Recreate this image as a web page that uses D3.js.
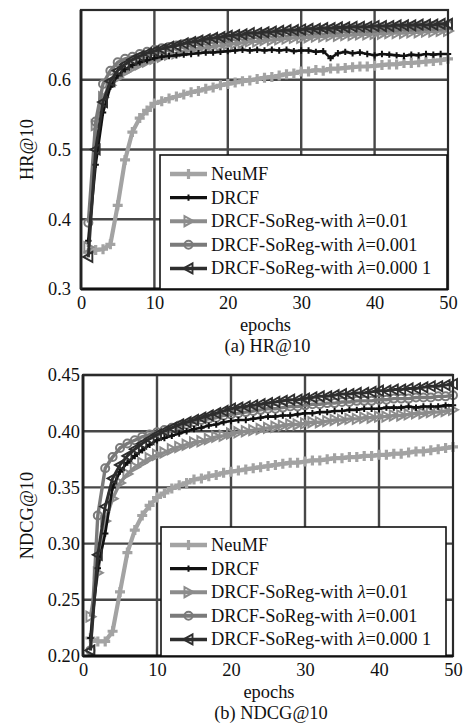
<!DOCTYPE html>
<html><head><meta charset="utf-8">
<script src="https://cdn.jsdelivr.net/npm/d3@7/dist/d3.min.js"></script>
<style>body{margin:0;background:#fff}svg{display:block}</style>
</head><body><svg id="c" width="470" height="725"></svg>
<script>
// ---------- data ----------
const epochs = [1,2,3,4,5,6,7,8,9,10,11,12,13,14,15,16,17,18,19,20,21,22,23,24,25,26,27,28,29,30,31,32,33,34,35,36,37,38,39,40,41,42,43,44,45,46,47,48,49,50];
const seriesNames = ["NeuMF","DRCF","DRCF-SoReg-with |λ|=0.01","DRCF-SoReg-with |λ|=0.001","DRCF-SoReg-with |λ|=0.000 1"];
const xTicks = [0,10,20,30,40,50];
const hrTicks = [0.3,0.4,0.5,0.6];
const ndcgTicks = [0.20,0.25,0.30,0.35,0.40,0.45];

const hrNeuMF = [0.352,0.356,0.357,0.364,0.420,0.485,0.525,0.545,0.556,0.566,0.569,0.573,0.576,0.579,0.582,0.584,0.587,0.589,0.592,0.594,0.596,0.598,0.599,0.601,0.603,0.604,0.606,0.608,0.609,0.612,0.612,0.614,0.613,0.616,0.616,0.617,0.618,0.619,0.619,0.620,0.621,0.622,0.622,0.624,0.624,0.625,0.626,0.627,0.628,0.630];
const hrDRCF = [0.369,0.478,0.553,0.590,0.606,0.615,0.621,0.625,0.628,0.631,0.633,0.634,0.635,0.636,0.637,0.638,0.639,0.639,0.640,0.641,0.642,0.643,0.642,0.643,0.642,0.643,0.642,0.643,0.641,0.642,0.642,0.640,0.641,0.631,0.638,0.640,0.638,0.639,0.637,0.635,0.637,0.636,0.635,0.634,0.636,0.635,0.637,0.636,0.637,0.637];
const hrL001 = [0.360,0.535,0.575,0.592,0.603,0.611,0.617,0.622,0.626,0.630,0.633,0.636,0.638,0.641,0.643,0.645,0.646,0.648,0.649,0.651,0.652,0.653,0.655,0.655,0.657,0.657,0.658,0.659,0.660,0.660,0.661,0.662,0.662,0.663,0.663,0.664,0.664,0.665,0.665,0.666,0.666,0.667,0.667,0.667,0.668,0.668,0.669,0.669,0.670,0.670];
const hrL0001 = [0.395,0.540,0.594,0.613,0.625,0.630,0.633,0.637,0.640,0.643,0.645,0.647,0.649,0.651,0.653,0.655,0.656,0.658,0.659,0.660,0.662,0.663,0.664,0.665,0.666,0.667,0.667,0.668,0.669,0.669,0.670,0.671,0.671,0.672,0.672,0.673,0.673,0.674,0.674,0.674,0.675,0.675,0.675,0.676,0.676,0.676,0.677,0.677,0.677,0.678];
const hrL00001 = [0.346,0.500,0.568,0.598,0.613,0.622,0.629,0.634,0.638,0.641,0.644,0.647,0.649,0.652,0.654,0.656,0.658,0.660,0.661,0.663,0.664,0.665,0.667,0.667,0.668,0.669,0.670,0.671,0.671,0.672,0.673,0.673,0.674,0.674,0.675,0.675,0.676,0.676,0.676,0.677,0.677,0.677,0.678,0.678,0.678,0.679,0.679,0.679,0.680,0.680];

const ndNeuMF = [0.216,0.213,0.213,0.222,0.257,0.292,0.312,0.325,0.334,0.341,0.345,0.349,0.352,0.354,0.357,0.358,0.360,0.361,0.363,0.364,0.365,0.366,0.367,0.368,0.369,0.370,0.371,0.372,0.372,0.373,0.374,0.374,0.375,0.376,0.376,0.377,0.377,0.378,0.378,0.379,0.379,0.380,0.380,0.381,0.382,0.382,0.383,0.384,0.385,0.386];
const ndDRCF = [0.216,0.278,0.309,0.350,0.364,0.372,0.378,0.383,0.388,0.392,0.394,0.396,0.398,0.400,0.402,0.403,0.405,0.406,0.408,0.409,0.410,0.410,0.411,0.412,0.413,0.413,0.414,0.414,0.415,0.416,0.416,0.417,0.417,0.418,0.418,0.419,0.419,0.420,0.420,0.420,0.421,0.421,0.421,0.422,0.421,0.422,0.422,0.422,0.423,0.423];
const ndL001 = [0.235,0.274,0.320,0.340,0.354,0.362,0.368,0.372,0.376,0.379,0.381,0.384,0.386,0.388,0.390,0.391,0.393,0.395,0.396,0.398,0.399,0.400,0.401,0.402,0.403,0.404,0.405,0.406,0.406,0.407,0.408,0.408,0.409,0.410,0.410,0.411,0.411,0.412,0.412,0.413,0.413,0.414,0.414,0.415,0.416,0.416,0.417,0.417,0.418,0.419];
const ndL0001 = [0.205,0.325,0.367,0.377,0.385,0.389,0.392,0.395,0.397,0.399,0.401,0.403,0.405,0.406,0.408,0.410,0.411,0.412,0.414,0.415,0.416,0.417,0.418,0.419,0.420,0.420,0.421,0.422,0.422,0.423,0.424,0.424,0.425,0.425,0.426,0.426,0.427,0.427,0.427,0.428,0.428,0.429,0.429,0.429,0.430,0.430,0.430,0.431,0.431,0.432];
const ndL00001 = [0.205,0.290,0.333,0.358,0.370,0.378,0.384,0.389,0.393,0.397,0.400,0.403,0.406,0.408,0.410,0.412,0.414,0.416,0.418,0.420,0.421,0.422,0.423,0.424,0.425,0.426,0.427,0.428,0.428,0.429,0.430,0.431,0.431,0.432,0.433,0.433,0.434,0.434,0.435,0.436,0.436,0.437,0.437,0.438,0.438,0.439,0.440,0.440,0.441,0.442];

// ---------- styles ----------
const styles = [
  {color:"#a3a3a3", width:4.2, marker:"plus", msize:5, mw:3.2},
  {color:"#111111", width:2.6, marker:"plus", msize:3.2, mw:2},
  {color:"#8c8c8c", width:3.4, marker:"tri-right", msize:5, mw:2},
  {color:"#7a7a7a", width:3.4, marker:"circle", msize:4, mw:2},
  {color:"#2e2e2e", width:3.0, marker:"tri-left", msize:5, mw:1.9}
];
const drawOrder = [0,2,3,1,4];

function markerPath(type, s){
  if(type==="plus") return `M${-s},0L${s},0M0,${-s}L0,${s}`;
  if(type==="tri-right") return `M${s},0L${-s*0.8},${-s}L${-s*0.8},${s}Z`;
  if(type==="tri-left") return `M${-s},0L${s*0.8},${-s}L${s*0.8},${s}Z`;
  if(type==="circle") return d3.symbol(d3.symbolCircle, Math.PI*s*s)();
}

const svg = d3.select("#c");
const FONT = "'Liberation Serif','Times New Roman',serif";
const FS = 18.4;

const panels = [
  {xr:[81,448], yr:[289,10], ydom:[0.3,0.7], ticks:hrTicks, fmt:d3.format(".1f"), ytickPad:10,
   series:[hrNeuMF,hrDRCF,hrL001,hrL0001,hrL00001], ylabel:"HR@10", caption:"(a) HR@10",
   epochsY:325, captionY:346, legend:{x0:160,x1:447,y0:155,y1:289,row0:174,step:23.6}},
  {xr:[83,453], yr:[656,375], ydom:[0.2,0.45], ticks:ndcgTicks, fmt:d3.format(".2f"), ytickPad:3,
   series:[ndNeuMF,ndDRCF,ndL001,ndL0001,ndL00001], ylabel:"NDCG@10", caption:"(b) NDCG@10",
   epochsY:692, captionY:713, legend:{x0:161,x1:446,y0:527,y1:656,row0:545,step:23.6}}
];

panels.forEach(p=>{
  const x = d3.scaleLinear().domain([0,50]).range(p.xr);
  const y = d3.scaleLinear().domain(p.ydom).range(p.yr);
  const g = svg.append("g");

  // grid
  g.append("g").selectAll("line").data(xTicks.slice(1,-1)).join("line")
    .attr("x1",d=>x(d)).attr("x2",d=>x(d)).attr("y1",p.yr[0]).attr("y2",p.yr[1])
    .attr("stroke","#474747").attr("stroke-width",2.4);
  g.append("g").selectAll("line").data(p.ticks.slice(1)).join("line")
    .attr("x1",p.xr[0]).attr("x2",p.xr[1]).attr("y1",d=>y(d)).attr("y2",d=>y(d))
    .attr("stroke","#474747").attr("stroke-width",2.4);

  // series
  const line = d3.line().x((d,i)=>x(epochs[i])).y(d=>y(d));
  drawOrder.forEach(si=>{
    const st = styles[si], vals = p.series[si];
    g.append("path").datum(vals).attr("d",line).attr("fill","none")
      .attr("stroke",st.color).attr("stroke-width",st.width).attr("stroke-linejoin","round");
    g.append("g").selectAll("path").data(vals).join("path")
      .attr("transform",(d,i)=>`translate(${x(epochs[i])},${y(d)})`)
      .attr("d",markerPath(st.marker, st.msize))
      .attr("fill","none")
      .attr("stroke",st.color).attr("stroke-width",st.mw);
  });

  // frame
  g.append("rect").attr("x",p.xr[0]).attr("y",p.yr[1]).attr("width",p.xr[1]-p.xr[0]).attr("height",p.yr[0]-p.yr[1])
    .attr("fill","none").attr("stroke","#2a2a2a").attr("stroke-width",2.2);
  g.append("line").attr("x1",p.xr[0]).attr("x2",p.xr[1]).attr("y1",p.yr[0]).attr("y2",p.yr[0])
    .attr("stroke","#111").attr("stroke-width",3);
  g.append("line").attr("x1",p.xr[0]).attr("x2",p.xr[0]).attr("y1",p.yr[0]).attr("y2",p.yr[1])
    .attr("stroke","#222").attr("stroke-width",2.8);

  // axes
  const xa = g.append("g").attr("transform",`translate(0,${p.yr[0]})`)
    .call(d3.axisBottom(x).tickValues(xTicks).tickSize(0).tickPadding(7).tickFormat(d3.format("d")));
  xa.select(".domain").remove();
  xa.selectAll("text").attr("font-family",FONT).attr("font-size",FS).attr("fill","#111");
  const ya = g.append("g").attr("transform",`translate(${p.xr[0]},0)`)
    .call(d3.axisLeft(y).tickValues(p.ticks).tickSize(0).tickPadding(p.ytickPad).tickFormat(p.fmt));
  ya.select(".domain").remove();
  ya.selectAll("text").attr("font-family",FONT).attr("font-size",FS).attr("fill","#111");

  // labels
  g.append("text").attr("transform",`translate(27,${(p.yr[0]+p.yr[1])/2}) rotate(-90)`)
    .attr("text-anchor","middle").attr("dominant-baseline","central")
    .attr("font-family",FONT).attr("font-size",FS).attr("fill","#111").text(p.ylabel);
  g.append("text").attr("x",(p.xr[0]+p.xr[1])/2+1).attr("y",p.epochsY).attr("text-anchor","middle")
    .attr("dominant-baseline","central").attr("font-family",FONT).attr("font-size",FS).attr("fill","#111").text("epochs");
  g.append("text").attr("x",(p.xr[0]+p.xr[1])/2+3).attr("y",p.captionY).attr("text-anchor","middle")
    .attr("dominant-baseline","central").attr("font-family",FONT).attr("font-size",FS).attr("fill","#111").text(p.caption);

  // legend
  const L = p.legend;
  g.append("rect").attr("x",L.x0).attr("y",L.y0).attr("width",L.x1-L.x0).attr("height",L.y1-L.y0)
    .attr("fill","#fff").attr("stroke","#111").attr("stroke-width",1.6);
  seriesNames.forEach((name,si)=>{
    const st = styles[si], yy = L.row0 + si*L.step;
    g.append("line").attr("x1",170).attr("x2",207).attr("y1",yy).attr("y2",yy)
      .attr("stroke",st.color).attr("stroke-width",st.width+0.5);
    g.append("path").attr("transform",`translate(188.5,${yy})`).attr("d",markerPath(st.marker,st.msize))
      .attr("fill","none").attr("stroke",st.color).attr("stroke-width",st.mw);
    const t = g.append("text").attr("x",211).attr("y",yy).attr("dominant-baseline","central")
      .attr("font-family",FONT).attr("font-size",FS).attr("fill","#111");
    const parts = name.split("|");
    parts.forEach((pt,k)=>{
      const ts = t.append("tspan").text(pt);
      if(k===1) ts.attr("font-style","italic");
    });
  });
});
</script>
</body></html>
